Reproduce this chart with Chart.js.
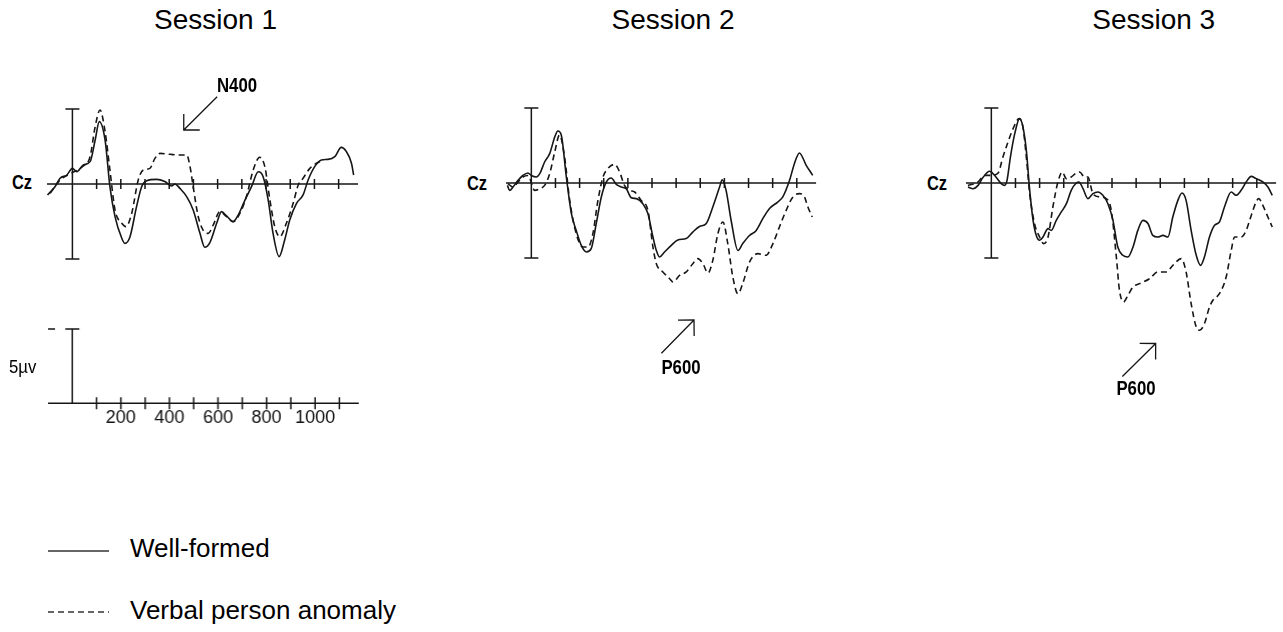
<!DOCTYPE html>
<html><head><meta charset="utf-8">
<script src="https://cdn.jsdelivr.net/npm/chart.js@4.4.1/dist/chart.umd.min.js"></script>
<style>
html,body{margin:0;padding:0;background:#fff;width:1283px;height:632px;overflow:hidden;position:relative;font-family:"Liberation Sans",Arial,sans-serif;color:#000}
.box{position:absolute}
.t{position:absolute;white-space:nowrap;line-height:1}
</style></head><body>
<div id="root"></div>
<script>
// ---------- DATA (time in ms, amplitude in µV; negative plotted up) ----------
const sessionTitles = ['Session 1', 'Session 2', 'Session 3'];
const seriesNames = ['Well-formed', 'Verbal person anomaly'];
const channelLabel = 'Cz';

const s1WellT = [-103,-72,-51,-23,0,18,45,73,94,111,135,155,176,204,217,238,265,286,307,348,382,410,424,444,472,499,527,547,568,596,616,637,664,685,713,740,768,788,809,829,854,877,898,926,953,974,1001,1029,1056,1084,1111,1132,1153,1162];
const s1WellV = [0.73,0.18,-0.38,-0.6,-1.04,-0.82,-1.27,-1.49,-2.93,-4.16,-2.93,0.18,2.18,3.62,3.96,3.51,1.51,0.18,-0.22,-0.31,-0.16,0.13,0,0.29,0.84,1.73,3.29,4.22,3.91,2.62,1.84,2.13,2.51,2.07,1.07,0.18,-0.82,-0.49,1.07,3.29,4.84,3.73,2.4,1.29,0.73,-0.27,-1.16,-1.6,-1.64,-1.82,-2.44,-2.16,-1.38,-0.6];
const s1AnomT = [-92,-51,0,45,73,94,114,135,155,176,204,221,245,272,293,320,341,362,403,444,472,486,499,520,540,561,582,609,637,664,692,719,747,774,795,816,836,857,884,912,933,953,981,1008,1036];
const s1AnomV = [0.62,-0.27,-0.76,-1.2,-1.82,-3.82,-4.93,-3.49,-0.93,1.73,2.62,2.84,1.96,-0.27,-0.93,-1.04,-1.71,-2.04,-1.98,-1.93,-1.93,-1.16,0.18,2.18,3.07,3.29,2.73,1.84,2.18,2.51,1.96,0.84,-0.93,-1.78,-1.16,1.07,2.84,3.51,2.62,1.29,0.07,-0.38,-1.04,-1.38,-1.6];

const s2WellT = [-99,-90,-76,-55,-35,-14,0,21,35,55,76,97,110,124,145,166,186,207,228,248,269,290,311,331,352,373,393,414,435,462,483,504,518,531,552,580,607,642,669,697,725,752,780,791,807,828,856,876,904,932,959,987,1021,1042,1070,1090,1111,1139,1166];
const s2WellV = [0.16,0.49,0.27,-0.18,-0.5,-0.67,-0.5,-0.4,-0.62,-1.4,-1.96,-3.07,-3.47,-3.2,-0.4,2.04,3.16,4.16,4.6,4.38,2.7,0.93,-0.07,-0.33,0.09,0.27,0.38,0.98,1.04,1.38,2.04,3.6,4.5,4.93,4.6,4.16,3.8,3.7,3.27,2.9,2.7,1.6,0.27,-0.22,0.49,2.5,4.5,4.04,3.5,3.16,2.38,1.7,1.27,0.93,-0.18,-1.29,-2.0,-1.18,-0.51];
const s2AnomT = [-97,-76,-55,-35,-14,14,35,55,76,97,117,138,159,186,214,235,255,276,297,317,345,366,386,407,428,455,483,504,518,545,573,587,614,642,669,690,711,732,752,773,794,814,835,856,876,904,939,973,1001,1028,1056,1084,1111,1132,1146,1164];
const s2AnomV = [0.04,0.27,-0.07,-0.4,-0.5,0.49,0.38,0.16,-0.62,-2.07,-3.2,-1.7,1.16,3.38,4.27,4.27,3.38,1.16,-0.4,-0.96,-1.24,-0.73,0.16,0.49,0.6,1.16,1.82,4.27,5.38,5.93,6.38,6.6,6.16,5.93,5.38,5.04,5.38,6.0,5.16,3.38,2.6,4.04,6.27,7.38,6.7,5.27,4.71,4.82,4.04,2.93,1.82,0.93,0.71,0.93,1.6,2.27];

const s3WellT = [-97,-76,-55,-35,-7,14,41,55,65,79,97,117,131,145,159,173,186,200,214,235,248,269,290,311,331,352,363,380,400,421,442,462,483,504,524,545,566,587,607,628,649,669,690,711,732,752,773,790,807,828,849,867,883,904,925,945,966,994,1014,1035,1056,1077,1097,1125,1146,1164];
const s3WellV = [0.27,0.38,0.16,-0.36,-0.78,-0.5,0.04,0.16,-0.18,-1.73,-3.29,-4.29,-3.73,-2.18,0.49,2.49,3.49,3.82,3.6,3.04,3.16,2.49,1.93,1.38,0.49,0,-0.07,0.38,1.04,0.71,0.6,0.82,1.38,2.49,4.27,4.82,4.93,4.27,3.16,2.49,2.7,3.49,3.6,3.49,3.6,2.27,1.16,0.67,1.16,3.16,4.82,5.49,4.93,3.6,2.82,2.6,1.6,0.6,0.82,0.49,-0.07,-0.44,-0.29,-0.07,0.27,0.82];
const s3AnomT = [-97,-55,-28,0,28,48,69,90,115,131,145,159,179,200,217,235,255,276,294,311,331,352,366,386,400,421,449,476,497,518,531,548,566,587,614,656,690,725,752,787,807,828,849,863,883,904,918,945,973,994,1008,1035,1056,1077,1097,1108,1125,1146,1164];
const s3AnomV = [0.16,-0.07,-0.51,-0.51,-0.67,-1.73,-2.73,-3.62,-4.29,-3.73,-1.73,0.71,2.71,3.6,4.04,3.6,1.6,-0.07,-0.73,-0.29,-0.4,-0.67,-0.73,-0.4,-0.4,0.71,0.93,1.04,1.82,4.93,7.16,7.93,7.49,6.93,6.71,6.38,5.93,5.93,5.49,5.04,5.93,8.04,9.6,9.82,9.38,8.27,7.82,7.38,6.27,4.49,3.6,3.6,3.16,2.16,1.27,1.04,1.49,2.27,2.93];

const axisTicks = [100,200,300,400,500,600,700,800,900,1000,1100];   // ms
const labeledTicks = [200,400,600,800,1000];                          // ms
const calibrationUV = 5;                                              // µV
const calibrationLabel = '5µv';
const peakLabels = ['N400', 'P600', 'P600'];
// arrow [tail ms, tail µV, tip ms, tip µV] per session
const peakArrows = [[598,-5.82,460,-3.6],[539,11.35,674,9.13],[543,12.9,681,10.7]];

// ---------- LAYOUT ----------
const PX_UV = 15;
const X_MIN = -105, X_MAX = 1180, Y_MIN = -7.6, Y_MAX = 14;
const PAD = 10;
const panelLayout = [
  {x0: 72.0,  y0: 184, pxms: 0.2420, cz: [11.7, 182], title: 215.5, label: [237, 84]},
  {x0: 531.7, y0: 183, pxms: 0.2413, cz: [467, 183],  title: 673,   label: [681, 366]},
  {x0: 991.7, y0: 183, pxms: 0.2413, cz: [927, 183],  title: 1153.7, label: [1136, 387]}
];
const INK = '#161616';

const root = document.getElementById('root');
function addText(txt, left, capCenterY, size, opts = {}) {
  const d = document.createElement('div');
  d.className = 't';
  d.textContent = txt;
  d.style.fontSize = size + 'px';
  d.style.top = (capCenterY - 0.49 * size) + 'px';
  d.style.left = left + 'px';
  if (opts.bold) d.style.fontWeight = 'bold';
  const sx = opts.sx || 1;
  if (opts.center) {
    d.style.transformOrigin = 'center center';
    d.style.transform = 'translateX(-50%) scaleX(' + sx + ')';
  } else if (sx !== 1) {
    d.style.transformOrigin = 'left center';
    d.style.transform = 'scaleX(' + sx + ')';
  }
  root.appendChild(d);
}
function addBox(left, top, w, h) {
  const b = document.createElement('div');
  b.className = 'box';
  b.style.left = left + 'px'; b.style.top = top + 'px';
  b.style.width = w + 'px'; b.style.height = h + 'px';
  const c = document.createElement('canvas');
  b.appendChild(c); root.appendChild(b);
  return c;
}

const eegPlugin = {
  id: 'eeg',
  beforeDatasetsDraw(chart, args, o) {
    const {ctx, scales: {x, y}} = chart;
    ctx.save();
    ctx.strokeStyle = INK; ctx.lineWidth = 1.5; ctx.lineCap = 'butt';
    const y0 = y.getPixelForValue(0);
    ctx.beginPath();
    ctx.moveTo(x.getPixelForValue(o.from), y0);
    ctx.lineTo(x.getPixelForValue(o.to), y0);
    for (const t of o.ticks) {
      const px = x.getPixelForValue(t);
      ctx.moveTo(px, y0 - o.tickLen); ctx.lineTo(px, y0 + o.tickLen);
    }
    const bx = x.getPixelForValue(0);
    const yt = y.getPixelForValue(o.bar[0]), yb = y.getPixelForValue(o.bar[1]);
    ctx.moveTo(bx, yt); ctx.lineTo(bx, yb);
    ctx.moveTo(bx - 7, yt); ctx.lineTo(bx + 7, yt);
    if (o.bottomCap) { ctx.moveTo(bx - 7, yb); ctx.lineTo(bx + 7, yb); }
    if (o.mark) {
      ctx.moveTo(x.getPixelForValue(o.mark[0]), yt); ctx.lineTo(x.getPixelForValue(o.mark[1]), yt);
    }
    ctx.stroke();
    if (o.arrow) {
      const [t0, v0, t1, v1] = o.arrow;
      const ax = x.getPixelForValue(t0), ay = y.getPixelForValue(v0);
      const bx2 = x.getPixelForValue(t1), by = y.getPixelForValue(v1);
      const ang = Math.atan2(ay - by, ax - bx2);
      const L = 16;
      ctx.lineWidth = 1.3;
      ctx.beginPath();
      ctx.moveTo(ax, ay); ctx.lineTo(bx2, by);
      ctx.moveTo(bx2 + L * Math.cos(ang + Math.PI / 4), by + L * Math.sin(ang + Math.PI / 4));
      ctx.lineTo(bx2, by);
      ctx.lineTo(bx2 + L * Math.cos(ang - Math.PI / 4), by + L * Math.sin(ang - Math.PI / 4));
      ctx.stroke();
    }
    ctx.restore();
  }
};

const pts = (T, V) => T.map((t, i) => ({x: t, y: V[i]}));
const sessionData = [
  [pts(s1WellT, s1WellV), pts(s1AnomT, s1AnomV)],
  [pts(s2WellT, s2WellV), pts(s2AnomT, s2AnomV)],
  [pts(s3WellT, s3WellV), pts(s3AnomT, s3AnomV)]
];

sessionData.forEach((ds, i) => {
  const L = panelLayout[i];
  const w = (X_MAX - X_MIN) * L.pxms + 2 * PAD;
  const h = (Y_MAX - Y_MIN) * PX_UV + 2 * PAD;
  const left = L.x0 - (0 - X_MIN) * L.pxms - PAD;
  const top = L.y0 - (0 - Y_MIN) * PX_UV - PAD;
  const c = addBox(left, top, w, h);
  new Chart(c, {
    type: 'line',
    data: {
      datasets: [
        {label: seriesNames[0], data: ds[0], borderColor: INK, borderWidth: 1.6, pointRadius: 0, fill: false, cubicInterpolationMode: 'monotone'},
        {label: seriesNames[1], data: ds[1], borderColor: INK, borderWidth: 1.6, borderDash: [6, 4], pointRadius: 0, fill: false, cubicInterpolationMode: 'monotone'}
      ]
    },
    options: {
      responsive: true, maintainAspectRatio: false, animation: false,
      layout: {padding: PAD},
      scales: {
        x: {type: 'linear', min: X_MIN, max: X_MAX, display: false},
        y: {type: 'linear', min: Y_MIN, max: Y_MAX, reverse: true, display: false}
      },
      plugins: {
        legend: {display: false}, tooltip: {enabled: false},
        eeg: {from: X_MIN, to: X_MAX, ticks: axisTicks, tickLen: 5, bar: [-calibrationUV, calibrationUV], bottomCap: true, arrow: peakArrows[i]}
      }
    },
    plugins: [eegPlugin]
  });
  addText(sessionTitles[i], L.title, 19.3, 28, {center: true});
  addText(channelLabel, L.cz[0], L.cz[1], 20, {bold: true, sx: 0.82});
  addText(peakLabels[i], L.label[0], L.label[1], 21, {center: true, bold: true, sx: 0.8});
});

// ---------- calibration / time-scale panel ----------
(function () {
  const x0 = 72.3, y0 = 403.3, pxms = 0.242;
  const SMIN = -100, SMAX = 1180, YMIN = -5.6, AXH = 28;
  const areaH = (0 - YMIN) * 14.86;
  const w = (SMAX - SMIN) * pxms + 2 * PAD;
  const h = PAD + areaH + AXH + 4;
  const left = x0 - (0 - SMIN) * pxms - PAD;
  const top = y0 - areaH - PAD;
  const c = addBox(left, top, w, h);
  new Chart(c, {
    type: 'line',
    data: {datasets: []},
    options: {
      responsive: true, maintainAspectRatio: false, animation: false,
      layout: {padding: {left: PAD, right: PAD, top: PAD, bottom: 4}},
      scales: {
        x: {type: 'linear', min: SMIN, max: SMAX, position: 'bottom',
            grid: {display: false, drawTicks: false}, border: {display: false},
            afterBuildTicks: s => { s.ticks = labeledTicks.map(v => ({value: v})); },
            afterFit: s => { s.height = AXH; },
            ticks: {padding: 4, maxRotation: 0, autoSkip: false, color: '#111',
                    font: {family: '"Liberation Sans",Arial,sans-serif', size: 18},
                    callback: v => String(v)}},
        y: {type: 'linear', min: YMIN, max: 0, reverse: true, display: false}
      },
      plugins: {
        legend: {display: false}, tooltip: {enabled: false},
        eeg: {from: SMIN, to: SMAX, ticks: axisTicks, tickLen: 6, bar: [-calibrationUV, 0], bottomCap: false, mark: [-100, -71]}
      }
    },
    plugins: [eegPlugin]
  });
  addText(calibrationLabel, 9, 366, 19, {sx: 0.88});
})();

// ---------- legend ----------
(function () {
  const svgNS = 'http://www.w3.org/2000/svg';
  const svg = document.createElementNS(svgNS, 'svg');
  svg.setAttribute('width', '120'); svg.setAttribute('height', '632');
  svg.style.position = 'absolute'; svg.style.left = '0'; svg.style.top = '0';
  [[551, null], [612, '6,4']].forEach(([yy, dash]) => {
    const l = document.createElementNS(svgNS, 'line');
    l.setAttribute('x1', '48'); l.setAttribute('x2', '109');
    l.setAttribute('y1', yy); l.setAttribute('y2', yy);
    l.setAttribute('stroke', '#333'); l.setAttribute('stroke-width', '1.5');
    if (dash) l.setAttribute('stroke-dasharray', dash);
    svg.appendChild(l);
  });
  root.appendChild(svg);
  addText(seriesNames[0], 130, 547.5, 26);
  addText(seriesNames[1], 130, 609.5, 26);
})();
</script>
</body></html>
